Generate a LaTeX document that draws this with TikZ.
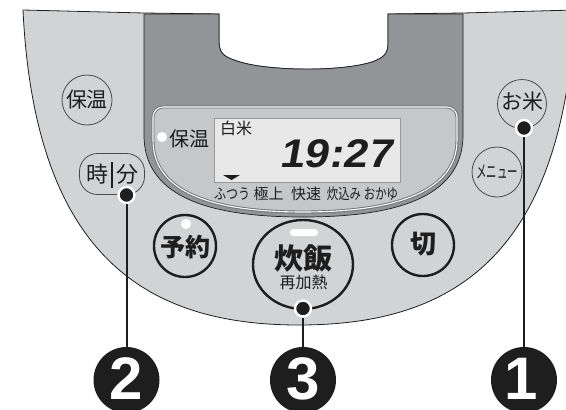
\documentclass[tikz,border=0pt]{standalone}
\usepackage{fontspec}
\usepackage{graphicx}
\usetikzlibrary{shapes.geometric}
\newfontfamily\jp{Noto Sans CJK JP}
\newfontfamily\numf{Liberation Sans}
\newfontfamily\segf{Liberation Sans}[FakeSlant=0.16]
\newcommand\fsz[1]{\fontsize{#1}{#1}\selectfont}
\definecolor{panel}{HTML}{D2D3D5}
\definecolor{insert}{HTML}{939498}
\definecolor{bezel}{HTML}{C6C7C9}
\definecolor{lcd}{HTML}{E8E8E9}
\definecolor{ink}{HTML}{1E1E1E}
\definecolor{rim}{HTML}{6D6E71}
\tikzset{
  txt/.style={inner sep=0, text=ink},
  thinbtn/.style={circle, draw=ink!80, line width=0.8, fill=panel, inner sep=0},
  thickbtn/.style={circle, draw=ink, line width=2.4, fill=panel, inner sep=0},
  cdot/.style={circle, fill=ink, draw=white, line width=2.4, minimum size=16, inner sep=0},
  numc/.style={circle, fill=ink, minimum size=66, inner sep=0},
  numt/.style={inner sep=0, text=white, font=\numf\bfseries\fsz{60}},
  cline/.style={draw=ink, line width=2},
  lamp/.style={circle, fill=white, minimum size=10, inner sep=0}
}
\begin{document}
\begin{tikzpicture}[x=1pt,y=-1pt]
\useasboundingbox (0,0) rectangle (566,410);
\clip (0,0) rectangle (566,410);
% outer panel
\path[fill=panel, draw=ink, line width=0.8]
  (23,10) -- (144,13) -- (219,14) -- (219,42)
  .. controls (219,56) and (228,58) .. (240,62)
  .. controls (270,71) and (340,72) .. (372,62)
  .. controls (383,58) and (388,54) .. (388,44)
  -- (388,14) -- (463,13) -- (575,10)
  .. controls (563,260) and (449,325) .. (299,325)
  .. controls (150,325) and (35,260) .. (23,10) -- cycle;
% dark insert
\path[fill=insert, draw=ink, line width=0.7]
  (144,14) -- (219,14) -- (219,42)
  .. controls (219,56) and (228,58) .. (240,62)
  .. controls (270,71) and (340,72) .. (372,62)
  .. controls (383,58) and (388,54) .. (388,44)
  -- (388,14) -- (463,14) -- (463,135)
  .. controls (463,200) and (390,217) .. (303,217)
  .. controls (216,217) and (144,200) .. (144,135) -- cycle;
% bezel
\path[fill=bezel, draw=rim, line width=0.9, double=white, double distance=1.1]
  (153,140) -- (153,117) .. controls (153,111.5) and (157.5,107) .. (163,107)
  -- (447,107) .. controls (452.5,107) and (457,111.5) .. (457,117)
  -- (457,140) .. controls (457,196) and (385,212) .. (303,212)
  .. controls (221,212) and (153,196) .. (153,140) -- cycle;
% LCD
\path[fill=lcd, draw=gray!80, line width=0.8] (214,118) rectangle (400,182);
\node[txt] (hakumai) at (236,128.5) {\jp\fsz{16}白米};
\node[txt] (clock) at (335.5,154) {\scalebox{1.1}[1]{\segf\bfseries\fsz{40}19:27}};
\fill[ink] (223,175) -- (240,175) -- (231.5,180) -- cycle;
% bezel labels
\node[lamp] (hlamp) at (162,137) {};
\node[txt] (hlabel) at (189,139) {\jp\fsz{20}保温};
\node[txt] (m1) at (232,194) {\scalebox{0.8}[1]{\jp\fsz{15}ふつう}};
\node[txt] (m2) at (268.5,194) {\jp\fsz{15}極上};
\node[txt] (m3) at (306,194) {\jp\fsz{15}快速};
\node[txt] (m4) at (344,194) {\scalebox{0.76}[1]{\jp\fsz{15}炊込み}};
\node[txt] (m5) at (381,194) {\scalebox{0.76}[1]{\jp\fsz{15}おかゆ}};
% upper buttons
\node[thinbtn, minimum size=50] (keep) at (87,100) {};
\node[txt] at (keep.center) {\jp\fsz{21}保温};
\node[draw=ink!80, line width=0.8, fill=panel, rounded corners=18, minimum width=65, minimum height=41, inner sep=0] (hm) at (112,174) {};
\node[txt] (hour) at (97,174) {\jp\fsz{22}時};
\node[txt] (minute) at (127.5,174) {\jp\fsz{22}分};
\draw[ink, line width=2] (112,162) -- (112,188);
\node[thinbtn, minimum size=49] (rice) at (522,104) {};
\node[txt] at (522,102) {\jp\fsz{21}お米};
\node[thinbtn, minimum size=50] (menu) at (497,172) {};
\node[txt] at (497,172) {\scalebox{0.58}[1]{\jp\fsz{18}メニュー}};
% lower buttons
\node[thickbtn, minimum size=62] (timer) at (185,246) {};
\node[lamp] (tlamp) at (186,224) {};
\node[txt] at (185,247) {\jp\bfseries\fsz{25}予約};
\node[thickbtn, ellipse, minimum width=100, minimum height=89] (cook) at (303,264.5) {};
\path[fill=white, rounded corners=3.5] (290,229) rectangle (318,236);
\node[txt] at (303.5,258) {\jp\bfseries\fsz{29}炊飯};
\node[txt] at (303.5,282.5) {\jp\fsz{16}再加熱};
\node[thickbtn, minimum size=62] (off) at (423,245) {};
\node[txt] at (423,244) {\jp\bfseries\fsz{26}切};
% callouts
\node[cdot] (d2) at (126.5,195) {};
\node[cdot] (d3) at (303,308.5) {};
\node[cdot] (d1) at (524,128) {};
\node[numc] (n2) at (126.5,380) {};
\node[numc] (n3) at (303,380) {};
\node[numc] (n1) at (524,380) {};
\node[numt] at (126.5,379) {2};
\node[numt] at (303,379) {3};
\node[numt] at (521,379) {1};
\draw[cline] (d2) -- (n2);
\draw[cline] (d3) -- (n3);
\draw[cline] (d1) -- (n1);
\end{tikzpicture}
\end{document}
